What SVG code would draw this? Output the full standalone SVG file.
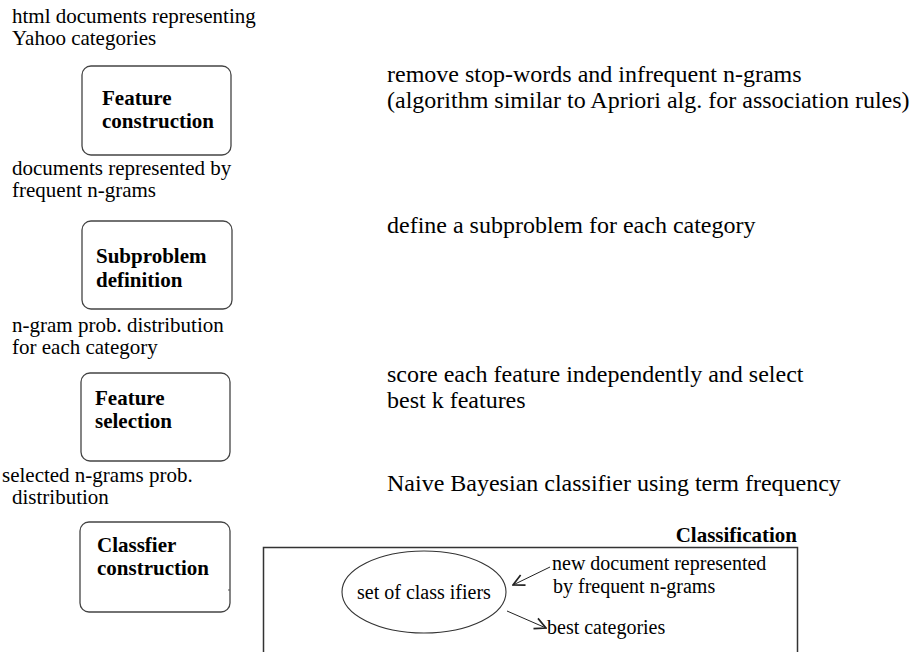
<svg xmlns="http://www.w3.org/2000/svg" width="922" height="652" viewBox="0 0 922 652">
  <defs>
    <style>
      text { font-family: "Liberation Serif", "DejaVu Serif", serif; fill: #000; }
      .lbl { font-size: 21px; }
      .note { font-size: 24px; }
      .head { font-size: 21px; font-weight: bold; }
      .small { font-size: 20px; }
      .step { fill: #fff; stroke: #444; stroke-width: 1.3; }
      .frame { fill: none; stroke: #333; stroke-width: 1.5; }
      .link { fill: none; stroke: #222; stroke-width: 1; }
    </style>
    <marker id="open" viewBox="0 0 10 10" refX="9" refY="5" markerWidth="14" markerHeight="14" markerUnits="userSpaceOnUse" orient="auto">
      <path d="M1,1 L9,5 L1,9" fill="none" stroke="#222" stroke-width="1.2"/>
    </marker>
  </defs>
  <rect width="922" height="652" fill="#fff"/>

  <!-- input description -->
  <g id="input-docs">
    <text class="lbl" x="12" y="23">html documents representing</text>
    <text class="lbl" x="12" y="45">Yahoo categories</text>
  </g>

  <!-- step 1 -->
  <g id="feature-construction">
    <rect class="step" x="82" y="66" width="149" height="89" rx="9"/>
    <text class="head" x="102" y="105">Feature</text>
    <text class="head" x="102" y="128">construction</text>
  </g>
  <g id="feature-construction-note">
    <text class="note" x="387" y="82">remove stop-words and infrequent n-grams</text>
    <text class="note" x="387" y="107.5">(algorithm similar to Apriori alg. for association rules)</text>
  </g>
  <g id="frequent-docs">
    <text class="lbl" x="12" y="175">documents represented by</text>
    <text class="lbl" x="12" y="197">frequent n-grams</text>
  </g>

  <!-- step 2 -->
  <g id="subproblem-definition">
    <rect class="step" x="82" y="221" width="150" height="88" rx="9"/>
    <text class="head" x="96" y="263">Subproblem</text>
    <text class="head" x="96" y="287">definition</text>
  </g>
  <g id="subproblem-note">
    <text class="note" x="387" y="233">define a subproblem for each category</text>
  </g>
  <g id="prob-distribution">
    <text class="lbl" x="12" y="332">n-gram prob. distribution</text>
    <text class="lbl" x="12" y="354">for each category</text>
  </g>

  <!-- step 3 -->
  <g id="feature-selection">
    <rect class="step" x="81" y="373" width="149" height="88" rx="9"/>
    <text class="head" x="95" y="405">Feature</text>
    <text class="head" x="95" y="428">selection</text>
  </g>
  <g id="feature-selection-note">
    <text class="note" x="387" y="382">score each feature independently and select</text>
    <text class="note" x="387" y="407.5">best k features</text>
  </g>
  <g id="selected-distribution">
    <text class="lbl" x="2" y="482">selected n-grams prob.</text>
    <text class="lbl" x="12" y="504">distribution</text>
  </g>

  <!-- step 4 -->
  <g id="classifier-construction">
    <rect class="step" x="80" y="522" width="150" height="90" rx="9"/>
    <text class="head" x="97" y="552">Classfier</text>
    <text class="head" x="97" y="575">construction</text>
    <line x1="228" y1="590" x2="230" y2="590" stroke="#555" stroke-width="1"/>
  </g>
  <g id="classifier-note">
    <text class="note" x="387" y="491">Naive Bayesian classifier using term frequency</text>
  </g>

  <!-- classification panel -->
  <g id="classification">
    <text class="head" x="797" y="542" text-anchor="end">Classification</text>
    <rect class="frame" x="263.5" y="547.5" width="534" height="130"/>
  </g>
  <g id="set-of-classifiers">
    <ellipse cx="424" cy="592" rx="82" ry="41" fill="none" stroke="#333" stroke-width="1.1"/>
    <text class="small" x="357" y="599">set of class ifiers</text>
  </g>
  <g id="new-document">
    <text class="small" x="552" y="570">new document represented</text>
    <text class="small" x="553" y="593">by frequent n-grams</text>
  </g>
  <g id="best-categories">
    <text class="small" x="547" y="634">best categories</text>
  </g>

  <g id="connectors">
    <line class="link" x1="550" y1="567" x2="513" y2="585" marker-end="url(#open)"/>
    <line class="link" x1="507" y1="611" x2="546" y2="628" marker-end="url(#open)"/>
  </g>
</svg>
